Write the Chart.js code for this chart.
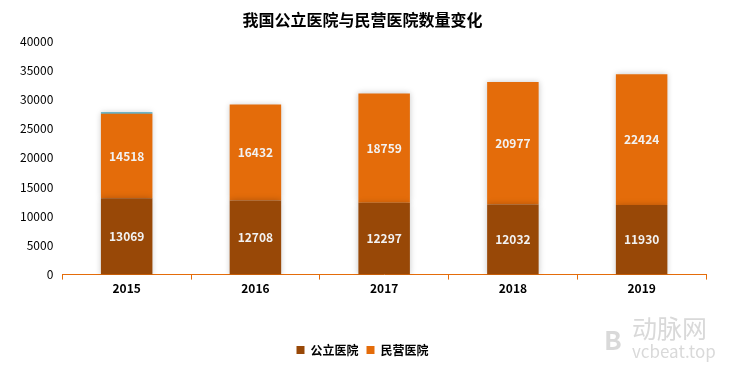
<!DOCTYPE html>
<html>
<head>
<meta charset="utf-8">
<script src="https://cdn.jsdelivr.net/npm/chart.js@4/dist/chart.umd.min.js"></script>
<style>
  body { margin: 0; background: #fff; }
  #wrap { width: 731px; height: 366px; }
</style>
</head>
<body>
<div id="wrap"><canvas id="chart" width="731" height="366"></canvas></div>
<script>
const years = ['2015', '2016', '2017', '2018', '2019'];
const publicHospitals = [13069, 12708, 12297, 12032, 11930];
const privateHospitals = [14518, 16432, 18759, 20977, 22424];
const topStrip = [250, 0, 0, 0, 0];
const yTicks = [0, 5000, 10000, 15000, 20000, 25000, 30000, 35000, 40000];

const FONT = '"Noto Sans CJK SC", "Noto Sans", sans-serif';

// soft glow round the bars
const barShadow = {
    id: 'barShadow',
    beforeDatasetsDraw(chart) {
        const ctx = chart.ctx;
        ctx.save();
        ctx.shadowColor = 'rgba(0,0,0,0.22)';
        ctx.shadowBlur = 6;
    },
    afterDatasetsDraw(chart) {
        chart.ctx.restore();
    }
};

// value text in the middle of each segment
const barValues = {
    id: 'barValues',
    afterDatasetsDraw(chart) {
        const ctx = chart.ctx;
        ctx.save();
        ctx.font = 'bold 12px ' + FONT;
        ctx.fillStyle = '#f2f2f2';
        ctx.textAlign = 'center';
        ctx.textBaseline = 'middle';
        [0, 1].forEach(i => {
            const meta = chart.getDatasetMeta(i);
            meta.data.forEach((bar, j) => {
                const v = chart.data.datasets[i].data[j];
                ctx.fillText(String(v), bar.x, (bar.y + bar.base) / 2);
            });
        });
        ctx.restore();
    }
};

// site mark in the corner
const watermark = {
    id: 'watermark',
    afterDraw(chart) {
        const ctx = chart.ctx;
        ctx.save();
        ctx.fillStyle = '#d9d9d9';
        ctx.textAlign = 'left';
        ctx.textBaseline = 'alphabetic';
        ctx.font = 'bold 26px ' + FONT;
        ctx.fillText('B', 604, 350);
        ctx.font = '25px ' + FONT;
        ctx.fillText('动脉网', 632, 338);
        ctx.font = '17px ' + FONT;
        ctx.fillText('vcbeat.top', 632, 358);
        ctx.restore();
    }
};

new Chart(document.getElementById('chart'), {
    type: 'bar',
    data: {
        labels: years,
        datasets: [
            { label: '公立医院', data: publicHospitals, backgroundColor: '#984807', barPercentage: 0.4, categoryPercentage: 1 },
            { label: '民营医院', data: privateHospitals, backgroundColor: '#e46c0a', barPercentage: 0.4, categoryPercentage: 1 },
            { label: 'strip', data: topStrip, backgroundColor: '#4bacc6', barPercentage: 0.4, categoryPercentage: 1 }
        ]
    },
    options: {
        responsive: false,
        animation: false,
        layout: { padding: { left: 19, right: 25, top: 6, bottom: 0 } },
        plugins: {
            title: {
                display: true,
                text: '我国公立医院与民营医院数量变化',
                color: '#000',
                font: { family: FONT, size: 16, weight: 'bold' },
                padding: { top: 4, bottom: 12 }
            },
            legend: {
                position: 'bottom',
                labels: {
                    filter: item => item.datasetIndex < 2,
                    boxWidth: 8,
                    boxHeight: 8,
                    padding: 8,
                    color: '#000',
                    font: { family: FONT, size: 12, weight: 'bold' }
                }
            },
            tooltip: { enabled: false }
        },
        scales: {
            x: {
                stacked: true,
                grid: { display: true, drawOnChartArea: false, offset: true, color: '#e46c0a', tickLength: 5 },
                border: { display: true, color: '#e46c0a' },
                ticks: { color: '#000', font: { family: FONT, size: 12, weight: 'bold' }, padding: 2 },
                afterFit(scale) { scale.height += 38; }
            },
            y: {
                stacked: true,
                min: 0,
                max: 40000,
                afterBuildTicks(scale) { scale.ticks = yTicks.map(v => ({ value: v })); },
                grid: { display: false },
                border: { display: false },
                ticks: { color: '#000', font: { family: FONT, size: 12 }, padding: 1, callback: v => String(v) }
            }
        }
    },
    plugins: [barShadow, barValues, watermark]
});
</script>
</body>
</html>
